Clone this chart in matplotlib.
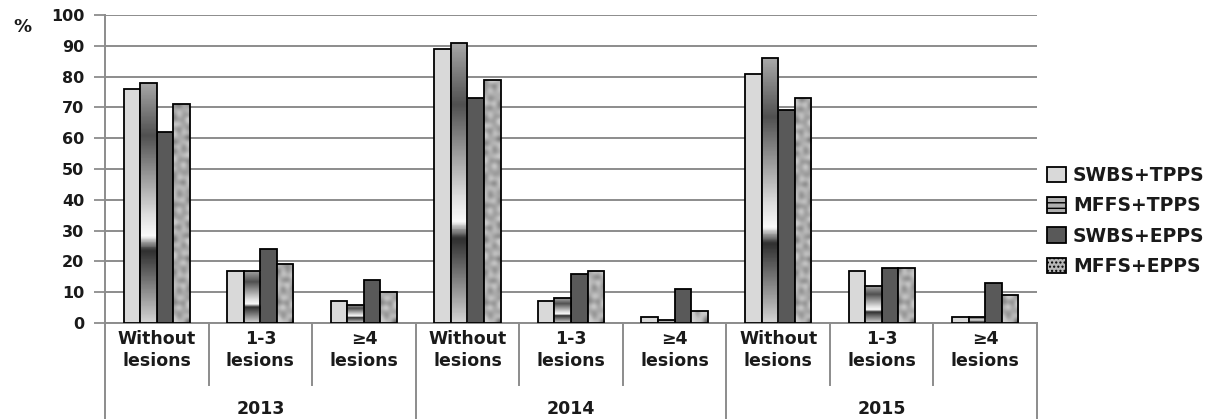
import numpy as np
import matplotlib
matplotlib.use("Agg")
import matplotlib.pyplot as plt
from matplotlib.colors import LinearSegmentedColormap
from matplotlib.patches import Patch
from matplotlib.transforms import blended_transform_factory

years = ["2013", "2014", "2015"]
categories = ["Without\nlesions", "1-3\nlesions", "\u22654\nlesions"]
series = ["SWBS+TPPS", "MFFS+TPPS", "SWBS+EPPS", "MFFS+EPPS"]

# one value per (year, category) group, in reading order
swbs_tpps = [76, 17, 7, 89, 7, 2, 81, 17, 2]
mffs_tpps = [78, 17, 6, 91, 8, 1, 86, 12, 2]
swbs_epps = [62, 24, 14, 73, 16, 11, 69, 18, 13]
mffs_epps = [71, 19, 10, 79, 17, 4, 73, 18, 9]

values = [swbs_tpps, mffs_tpps, swbs_epps, mffs_epps]

plt.rcParams["font.family"] = "DejaVu Sans"
plt.rcParams["font.weight"] = "bold"
text_color = "#1a1a1a"
grid_color = "#8c8c8c"

fig = plt.figure(figsize=(12.13, 4.19), dpi=100)
ax = fig.add_axes([105 / 1213, 1 - 323 / 419, (1037 - 105) / 1213, (323 - 15) / 419])

n_groups = len(swbs_tpps)
x = np.arange(n_groups)
width = 0.16

# metallic gradient for the second series (bottom -> top)
metal = LinearSegmentedColormap.from_list("metal", [
    (0.0, "#d4d4d4"), (0.30, "#2e2e2e"), (0.36, "#fafafa"),
    (0.45, "#dedede"), (0.78, "#505050"), (1.0, "#a8a8a8")])
# mottled stone texture for the fourth series
grain = LinearSegmentedColormap.from_list("grain", ["#5a5a5a", "#8e8e8e", "#c4c4c4", "#dadada"])

for k, vals in enumerate(values):
    pos = x + (k - 1.5) * width
    if k == 0:
        ax.bar(pos, vals, width, color="#d9d9d9", edgecolor="black", linewidth=1.3, zorder=3)
    elif k == 2:
        ax.bar(pos, vals, width, color="#595959", edgecolor="black", linewidth=1.3, zorder=3)
    else:
        bars = ax.bar(pos, vals, width, color="white", edgecolor="black", linewidth=1.3, zorder=3)
        for b, v in zip(bars, vals):
            x0 = b.get_x()
            if k == 1:
                img = np.linspace(0, 1, 200).reshape(-1, 1)
                im = ax.imshow(img, cmap=metal, aspect="auto", origin="lower",
                               extent=[x0, x0 + width, 0, v], zorder=3.5)
            else:
                rows = max(2, int(v * 0.7))
                i, j = np.mgrid[0:rows, 0:4]
                tex = (np.sin(i * 2.3 + j * 1.7) + np.sin(i * 0.9 - j * 2.9 + 1.0)
                       + np.sin(i * 3.7 + j * 0.6 + 2.0))
                im = ax.imshow(tex, cmap=grain, aspect="auto", origin="lower",
                               extent=[x0, x0 + width, 0, v], zorder=3.5,
                               interpolation="bicubic")
            im.set_clip_path(b)
            b.set_facecolor("none")
            b.set_zorder(4)

ax.set_xlim(-0.5, n_groups - 0.5)
ax.set_ylim(0, 100)
ax.set_yticks(range(0, 101, 10))
ax.tick_params(axis="y", length=8, width=1.3, color=grid_color, labelsize=11.5,
               labelcolor=text_color, pad=7)
ax.set_xticks([])
for lab in ax.get_yticklabels():
    lab.set_fontweight("bold")
ax.yaxis.grid(True, color=grid_color, linewidth=1.4, zorder=0)
ax.set_axisbelow(True)
for s in ["top", "right"]:
    ax.spines[s].set_visible(False)
ax.spines["left"].set_color(grid_color)
ax.spines["left"].set_linewidth(1.4)
ax.spines["bottom"].set_color(grid_color)
ax.spines["bottom"].set_linewidth(1.4)

fig.text(22 / 1213, 1 - 27 / 419, "%", fontsize=13, fontweight="bold",
         color=text_color, ha="center", va="center")

# multi-level category axis
tr = blended_transform_factory(ax.transData, ax.transAxes)
ax_h = 323 - 15
for g in range(n_groups):
    ax.text(x[g], -27 / ax_h, categories[g % 3], transform=tr, ha="center", va="center",
            fontsize=12.5, fontweight="bold", color=text_color, linespacing=1.25)
for g in range(n_groups + 1):
    bottom = -96 / ax_h if g % 3 == 0 else -62 / ax_h
    ax.plot([g - 0.5, g - 0.5], [0, bottom], transform=tr, color=grid_color,
            linewidth=1.4, clip_on=False)
for yi, year in enumerate(years):
    ax.text(yi * 3 + 1, -86 / ax_h, year, transform=tr, ha="center", va="center",
            fontsize=12.5, fontweight="bold", color=text_color)

handles = [
    Patch(facecolor="#d9d9d9", edgecolor="black", linewidth=1.3),
    Patch(facecolor="#b0b0b0", edgecolor="black", linewidth=1.3, hatch="---"),
    Patch(facecolor="#595959", edgecolor="black", linewidth=1.3),
    Patch(facecolor="#b8b8b8", edgecolor="black", linewidth=1.3, hatch="...."),
]
fig.legend(handles, series, loc="center left", bbox_to_anchor=(1030 / 1213, 1 - 221 / 419),
           frameon=False, handlelength=1.0, handleheight=0.9,
           handletextpad=0.4, labelspacing=0.6, labelcolor=text_color,
           prop={"weight": "bold", "size": 13.5})

fig.savefig("out.png", dpi=100)
